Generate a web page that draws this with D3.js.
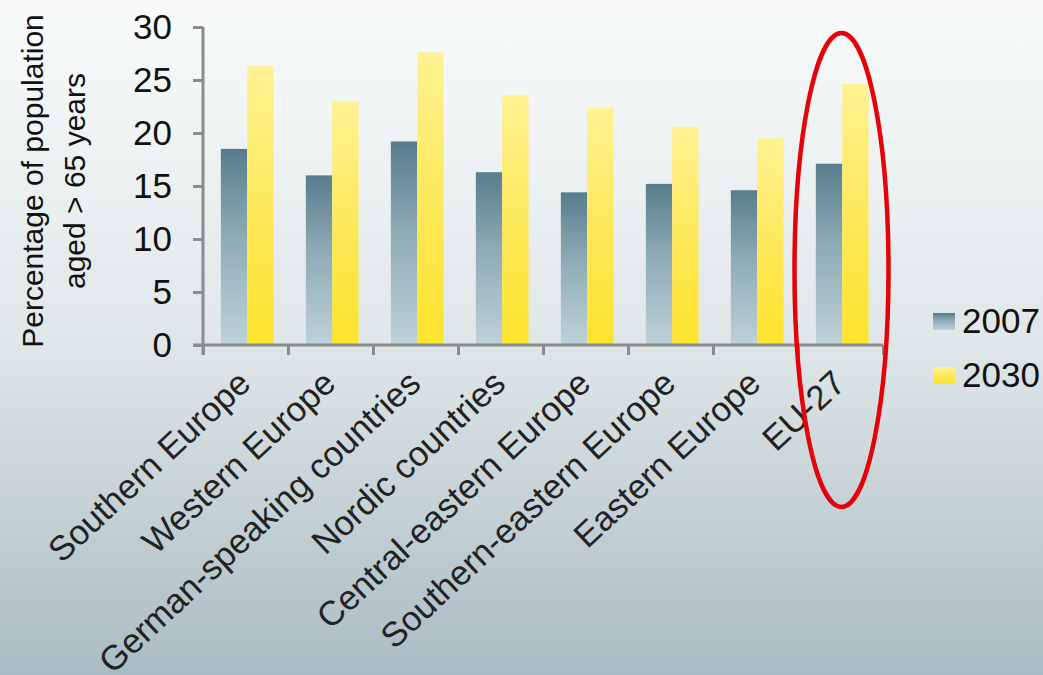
<!DOCTYPE html>
<html>
<head>
<meta charset="utf-8">
<script src="https://cdn.jsdelivr.net/npm/d3@7"></script>
<style>
  html, body { margin: 0; padding: 0; }
  svg { display: block; font-family: "Liberation Sans", Arial, sans-serif; }
</style>
</head>
<body>
<svg id="canvas" width="1043" height="675"></svg>
<script>
const regions = ["Southern Europe", "Western Europe", "German-speaking countries", "Nordic countries",
                 "Central-eastern Europe", "Southern-eastern Europe", "Eastern Europe", "EU-27"];
const series = ["2007", "2030"];
const values2007 = [18.5, 16.0, 19.2, 16.3, 14.4, 15.2, 14.6, 17.1];
const values2030 = [26.3, 23.0, 27.6, 23.6, 22.4, 20.6, 19.5, 24.6];
const yTicks = [0, 5, 10, 15, 20, 25, 30];
const yTitle = ["Percentage of population", "aged > 65 years"];
const highlighted = "EU-27";

const svg = d3.select("#canvas");
const W = 1043, H = 675;

const defs = svg.append("defs");
function vGrad(id, stops) {
    const g = defs.append("linearGradient").attr("id", id)
        .attr("x1", 0).attr("y1", 0).attr("x2", 0).attr("y2", 1);
    stops.forEach(s => g.append("stop").attr("offset", s[0]).attr("stop-color", s[1]));
}
vGrad("bg", [[0, "#f9fbfb"], [0.5, "#e0e7e9"], [1, "#aabcc3"]]);
vGrad("g2007", [[0, "#587d8c"], [0.45, "#8fabb6"], [1, "#bed1d8"]]);
vGrad("g2030", [[0, "#fef292"], [0.5, "#fde95c"], [1, "#fde42c"]]);

svg.append("rect").attr("width", W).attr("height", H).attr("fill", "url(#bg)");

const plotLeft = 203, plotRight = 883, plotTop = 27, plotBottom = 345;

const x0 = d3.scaleBand().domain(regions).range([plotLeft, plotRight]).padding(0);
const bw = x0.bandwidth();
const x1 = d3.scaleBand().domain(series).range([bw * 0.21, bw * 0.83]).padding(0);
const y = d3.scaleLinear().domain([0, 30]).range([plotBottom, plotTop]);

const rows = regions.map((r, i) => ({ region: r, "2007": values2007[i], "2030": values2030[i] }));

// bars
const groups = svg.selectAll("g.grp").data(rows).join("g")
    .attr("class", "grp")
    .attr("transform", d => `translate(${x0(d.region)},0)`);
groups.selectAll("rect").data(d => series.map(s => ({ s, v: d[s] }))).join("rect")
    .attr("x", d => x1(d.s))
    .attr("y", d => y(d.v))
    .attr("width", x1.bandwidth())
    .attr("height", d => y(0) - y(d.v))
    .attr("fill", d => `url(#g${d.s})`);

// axes
const yAxis = svg.append("g")
    .attr("transform", `translate(${plotLeft},0)`)
    .call(d3.axisLeft(y).tickValues(yTicks).tickSize(10).tickSizeOuter(0).tickPadding(21));
const xAxis = svg.append("g")
    .attr("transform", `translate(0,${plotBottom})`)
    .call(d3.axisBottom(d3.scalePoint().domain(d3.range(regions.length + 1)).range([plotLeft, plotRight]))
        .tickSize(10).tickSizeOuter(0).tickFormat(""));

[yAxis, xAxis].forEach(a => {
    a.select(".domain").attr("stroke", "#8c8c8c").attr("stroke-width", 3);
    a.selectAll(".tick line").attr("stroke", "#8c8c8c").attr("stroke-width", 3);
});
yAxis.select(".domain").attr("d", `M0,${plotTop}V${plotBottom + 10}`);
xAxis.select(".domain").attr("d", `M${plotLeft - 10},0H${plotRight}`);
yAxis.selectAll(".tick text")
    .attr("font-size", 35).attr("fill", "#111").attr("font-family", "Liberation Sans, Arial, sans-serif");

// category labels
svg.append("g").selectAll("text").data(regions).join("text")
    .attr("transform", d => `translate(${x0(d) + bw / 2 + 7},${plotBottom + 41}) rotate(-43)`)
    .attr("text-anchor", "end")
    .attr("font-size", 34.5)
    .attr("fill", "#222")
    .text(d => d);

// y title
const yt = svg.append("text")
    .attr("transform", `translate(43,181) rotate(-90)`)
    .attr("text-anchor", "middle")
    .attr("font-size", 30)
    .attr("fill", "#111");
yTitle.forEach((t, i) => yt.append("tspan").attr("x", 0).attr("dy", i === 0 ? 0 : 42).text(t));

// legend
const legend = svg.append("g").attr("transform", "translate(933,313)");
series.forEach((s, i) => {
    const row = legend.append("g").attr("transform", `translate(0,${i * 54})`);
    row.append("rect").attr("width", 22).attr("height", 17).attr("fill", `url(#g${s})`);
    row.append("text").attr("x", 29).attr("y", 20).attr("font-size", 35).attr("fill", "#111").text(s);
});

// red ellipse highlighting EU-27
svg.append("ellipse")
    .attr("cx", x0(highlighted) + bw / 2 + 1)
    .attr("cy", 270)
    .attr("rx", 47)
    .attr("ry", 237)
    .attr("fill", "none")
    .attr("stroke", "#e6000a")
    .attr("stroke-width", 4.5);
</script>
</body>
</html>
